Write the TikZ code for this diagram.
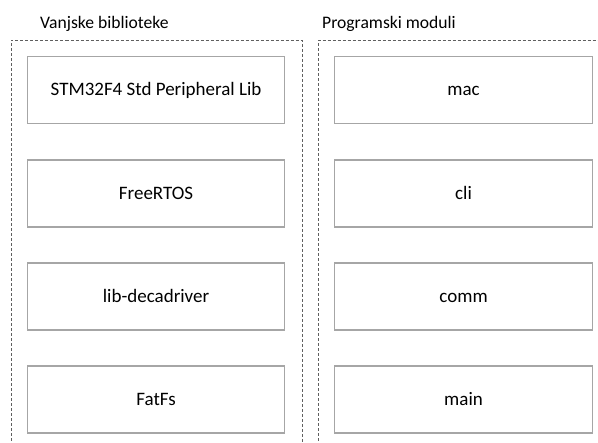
\documentclass[tikz,border=0pt]{standalone}
\usepackage{fontspec}
\setmainfont{Carlito}
\definecolor{boxgray}{HTML}{A6A6A6}
\definecolor{dashgray}{HTML}{5F5F5F}
\tikzset{
  modbox/.style={draw=boxgray, line width=1.1pt, fill=white, minimum width=257pt, minimum height=67pt, inner sep=0pt, text height=14pt, text depth=3pt, anchor=north west, font=\fontsize{19}{23}\selectfont},
  group/.style={draw=dashgray, line width=0.8pt, dash pattern=on 3pt off 2pt},
  title/.style={anchor=base west, inner sep=0pt, font=\fontsize{17.6}{21}\selectfont}
}
\begin{document}
\begin{tikzpicture}[x=1pt,y=-1pt]
\useasboundingbox (0,0) rectangle (598,443);
% containers
\draw[group] (11,446) -- (11,40.5) -- (302,40.5) -- (302,446);
\draw[group] (318,446) -- (318,40.5) -- (602,40.5);
% titles
\node[title] (tleft) at (40,29) {Vanjske biblioteke};
\node[title] (tright) at (322,29) {Programski moduli};
% left boxes
\node[modbox] (stm) at (27,56) {STM32F4 Std Peripheral Lib};
\node[modbox] (rtos) at (27,159.5) {FreeRTOS};
\node[modbox] (deca) at (27,262.5) {lib-decadriver};
\node[modbox] (fatfs) at (27,365.5) {FatFs};
% right boxes
\node[modbox, minimum width=258pt] (mac) at (334,56) {mac};
\node[modbox, minimum width=258pt] (cli) at (334,159.5) {cli};
\node[modbox, minimum width=258pt] (comm) at (334,262.5) {comm};
\node[modbox, minimum width=258pt] (main) at (334,365.5) {main};
\end{tikzpicture}
\end{document}
